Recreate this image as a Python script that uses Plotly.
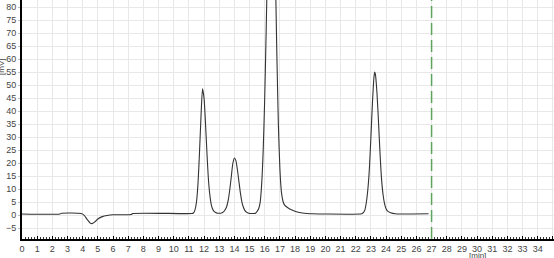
import plotly.graph_objects as go

# Chromatogram signal: time [min] and signal [mV]
time_min = [
    0.0, 2.5, 2.6, 3.9, 4.1, 4.3, 4.5, 4.6, 4.8, 5.0, 5.3, 5.6, 6.0, 7.2, 7.3, 11.2,
    11.3, 11.4, 11.5, 11.6, 11.7, 11.8, 11.9, 12.0, 12.1, 12.2, 12.3, 12.4, 12.5, 12.6,
    12.7, 12.8, 12.9, 13.0, 13.1, 13.2, 13.3,
    13.4, 13.5, 13.6, 13.7, 13.8, 13.9, 14.0, 14.1, 14.2, 14.3, 14.4, 14.5, 14.6, 14.7,
    14.8, 14.9, 15.0, 15.2, 15.4, 15.5,
    15.6, 15.7, 15.8, 15.9, 16.0, 16.1, 16.2, 16.3, 16.4, 16.5, 16.6, 16.7, 16.8, 16.9,
    17.0, 17.1, 17.2, 17.3, 17.5, 17.8, 18.2, 18.6, 19.2, 20.0,
    22.4, 22.5, 22.6, 22.7, 22.8, 22.9, 23.0, 23.1, 23.2, 23.25, 23.3, 23.4, 23.5, 23.6,
    23.7, 23.8, 23.9, 24.0, 24.1, 24.3, 24.6, 25.0, 26.8,
]
signal_mv = [
    0.5, 0.5, 0.8, 0.7, 0.0, -1.6, -3.0, -3.2, -2.5, -1.4, -0.5, -0.1, 0.2, 0.3, 0.7, 0.7,
    0.9, 2.0, 5.0, 12.0, 24.0, 38.0, 48.6, 45.0, 35.0, 23.0, 13.0, 7.0, 3.5, 2.0,
    1.3, 1.0, 0.8, 0.8, 0.8, 1.0, 1.4,
    2.2, 3.5, 6.0, 10.0, 15.0, 20.0, 22.0, 21.0, 17.5, 13.0, 8.5, 5.0, 3.0, 1.8,
    1.2, 0.9, 0.7, 0.7, 0.8, 1.5,
    2.5, 5.0, 12.0, 25.0, 45.0, 72.0, 103.0, 134.0, 153.0, 155.0, 136.0, 95.0, 62.0, 35.0,
    18.0, 9.0, 5.5, 4.0, 3.0, 2.0, 1.2, 0.8, 0.6, 0.5,
    0.6, 1.0, 2.0, 5.0, 10.0, 18.0, 30.0, 43.0, 53.0, 55.0, 54.0, 47.0, 36.0, 24.0,
    14.0, 8.0, 4.5, 2.5, 1.6, 1.0, 0.6, 0.5, 0.6,
]
marker_time = 27.0
x_title = "[min]"
y_title = "[mV]"

fig = go.Figure()
fig.add_trace(go.Scatter(
    x=time_min, y=signal_mv, mode="lines",
    line=dict(color="#333333", width=1.1, shape="spline", smoothing=0.6),
    hoverinfo="skip", showlegend=False,
))

fig.add_vline(x=marker_time, line=dict(color="#5fa35f", width=1.5, dash="12px,5px"))

fig.update_layout(
    width=554, height=258,
    margin=dict(l=22, r=0, t=0, b=19),
    paper_bgcolor="white", plot_bgcolor="white",
    font=dict(family="Liberation Sans, Arial, sans-serif", size=9, color="#444444"),
    showlegend=False,
)
fig.update_xaxes(
    range=[0, 35.07], dtick=1, tick0=0,
    showgrid=True, gridcolor="#e8e8e8", gridwidth=1,
    showline=True, linecolor="black", linewidth=2,
    ticks="inside", ticklen=3, tickcolor="black",
    minor=dict(dtick=0.2, ticks="inside", ticklen=2, tickcolor="#333333", showgrid=False),
    zeroline=False, tickfont=dict(size=9),
)
fig.update_yaxes(
    range=[-9.1, 82.7], dtick=5, tick0=0,
    showgrid=True, gridcolor="#e8e8e8", gridwidth=1,
    showline=True, linecolor="black", linewidth=2,
    ticks="outside", ticklen=2, tickcolor="#bbbbbb",
    zeroline=False, tickfont=dict(size=9),
)
fig.add_annotation(text=x_title, xref="x", yref="paper", x=30.0,
                   y=-(256 - 239) / 239, showarrow=False, font=dict(size=8), yanchor="middle")
fig.add_annotation(text=y_title, xref="paper", yref="paper", x=(1 - 22) / 532, y=1 - 57 / 239,
                   showarrow=False, textangle=-90, font=dict(size=8), xanchor="center")

fig.write_html("out.html")
